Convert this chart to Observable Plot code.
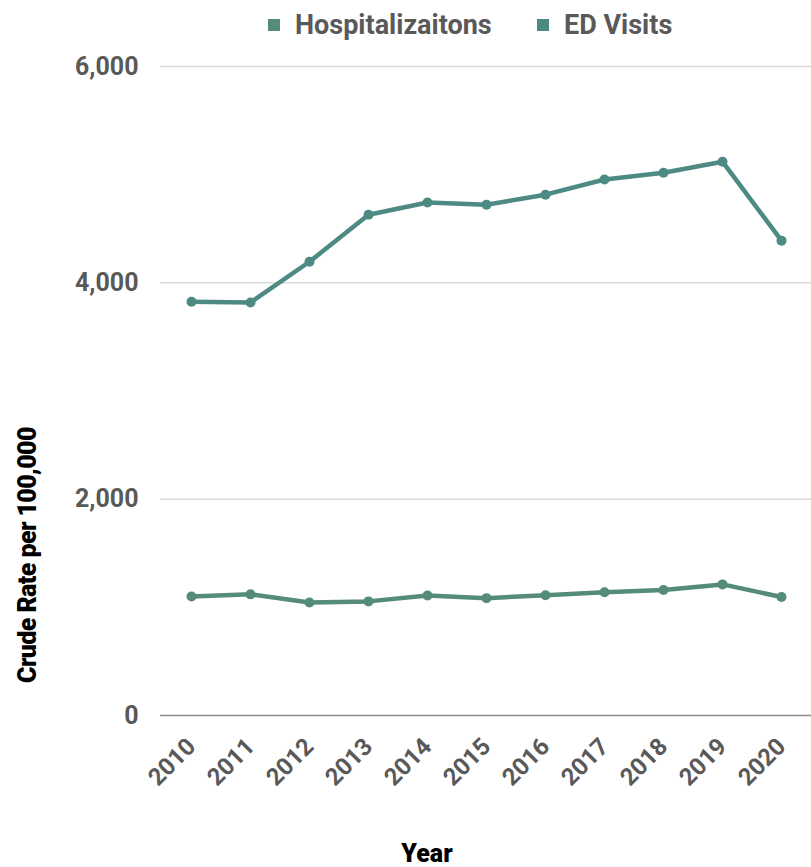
<!DOCTYPE html>
<html>
<head>
<meta charset="utf-8">
<script src="https://cdn.jsdelivr.net/npm/d3@7"></script>
<script src="https://cdn.jsdelivr.net/npm/@observablehq/plot@0.6"></script>
<style>
  html, body { margin: 0; padding: 0; background: #fff; }
  body { width: 811px; height: 867px; overflow: hidden; font-family: Roboto, "DejaVu Sans", sans-serif; }
  #legend { height: 46px; position: relative; }
  .item { position: absolute; top: 9px; display: flex; align-items: center; font-weight: 700; font-size: 27px; color: #595959; }
  .sw { width: 12px; height: 12px; margin-right: 15px; }
  svg { display: block; }
</style>
</head>
<body>
<div id="legend"></div>
<div id="chart"></div>
<script>
const years = ["2010","2011","2012","2013","2014","2015","2016","2017","2018","2019","2020"];
const seriesNames = ["Hospitalizaitons", "ED Visits"];
const seriesColors = ["#558c77", "#4d8a84"];
const hospitalizations = [1100, 1120, 1045, 1055, 1110, 1085, 1112, 1140, 1160, 1212, 1095];
const edVisits = [3825, 3818, 4195, 4630, 4742, 4722, 4815, 4955, 5018, 5120, 4390];
const yTicks = [0, 2000, 4000, 6000];

const data = [];
years.forEach((y, i) => {
  data.push({year: y, value: hospitalizations[i], series: seriesNames[0]});
  data.push({year: y, value: edVisits[i], series: seriesNames[1]});
});

// legend
const legend = document.getElementById("legend");
const legendX = [268, 537];
seriesNames.forEach((n, i) => {
  const d = document.createElement("div");
  d.className = "item";
  d.style.left = legendX[i] + "px";
  d.innerHTML = `<span class="sw" style="background:${seriesColors[i]}"></span>${n}`;
  legend.appendChild(d);
});

const W = 811, H = 821;
const plot = Plot.plot({
  width: W,
  height: H,
  marginTop: 20,
  marginBottom: 152,
  marginLeft: 160,
  marginRight: 0,
  style: {fontFamily: "Roboto, sans-serif", fontSize: "20px", fontWeight: 700, color: "#595959", background: "#fff"},
  x: {type: "point", domain: years, padding: 0.5, label: null},
  y: {domain: [0, 6000], label: null},
  color: {domain: seriesNames, range: seriesColors},
  marks: [
    Plot.ruleY(yTicks.filter(t => t > 0), {stroke: "#d9d9d9", strokeWidth: 1.5, strokeOpacity: 1}),
    Plot.ruleY([0], {stroke: "#8c8c8c", strokeWidth: 1.5}),
    Plot.axisY({ticks: yTicks, tickSize: 0, tickPadding: 22, tickFormat: d3.format(","), fontSize: 25, fill: "#595959", label: null}),
    Plot.axisX({tickSize: 0, tickRotate: -45, tickPadding: 27, fontSize: 24, fill: "#595959", label: null}),
    Plot.line(data, {x: "year", y: "value", z: "series", stroke: "series", strokeWidth: 4.5}),
    Plot.dot(data, {x: "year", y: "value", fill: "series", r: 5})
  ]
});
document.getElementById("chart").appendChild(plot);

const svg = d3.select(plot);
svg.append("text")
  .attr("transform", "translate(36,509) rotate(-90)")
  .attr("text-anchor", "middle")
  .attr("font-family", "Roboto, sans-serif")
  .attr("font-weight", 900)
  .attr("font-size", 25)
  .attr("letter-spacing", -0.6)
  .attr("fill", "#000")
  .text("Crude Rate per 100,000");
svg.append("text")
  .attr("x", 427)
  .attr("y", 816)
  .attr("text-anchor", "middle")
  .attr("font-family", "Roboto, sans-serif")
  .attr("font-weight", 900)
  .attr("font-size", 25)
  .attr("fill", "#000")
  .text("Year");
</script>
</body>
</html>
